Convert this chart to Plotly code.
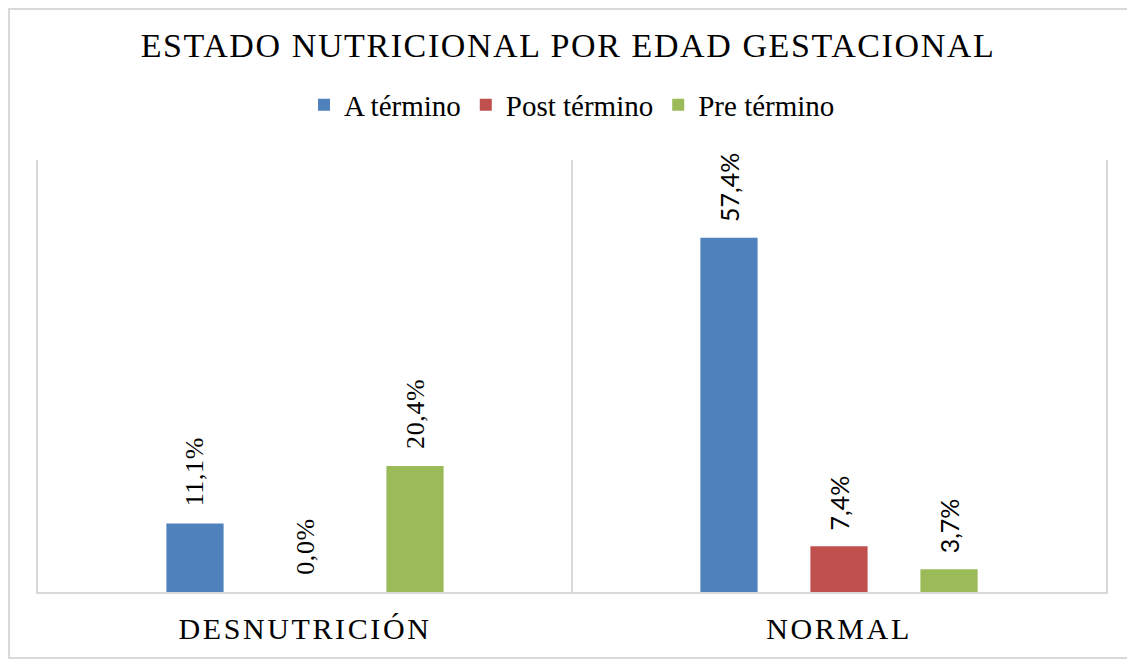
import plotly.graph_objects as go

categories = ["DESNUTRICIÓN", "NORMAL"]
series_names = ["A término", "Post término", "Pre término"]
a_termino = [0.111, 0.574]
post_termino = [0.0, 0.074]
pre_termino = [0.204, 0.037]
a_termino_labels = ["11,1%", "57,4%"]
post_termino_labels = ["0,0%", "7,4%"]
pre_termino_labels = ["20,4%", "3,7%"]
colors = ["#4F81BD", "#C0504D", "#9BBB59"]
title_text = "ESTADO NUTRICIONAL POR EDAD GESTACIONAL"

serif = "Liberation Serif"
# per-category label template (first category serif, second sans)
label_templates = [
    "<span style='letter-spacing:0.6px'>\u00a0\u00a0%{text}</span>",
    "<span style='font-family:Lato;font-size:25px'>\u00a0\u00a0%{text}</span>",
]

# page offset of the figure inside the browser body (default body margin)
OFF = 8
W, H = 1135, 661
plot_l, plot_r, plot_t, plot_b = 38 - OFF, 1106 - OFF, 160 - OFF, 592 - OFF
pw, ph = plot_r - plot_l, plot_b - plot_t

fig = go.Figure()
for name, vals, labels, col in zip(series_names,
                                   [a_termino, post_termino, pre_termino],
                                   [a_termino_labels, post_termino_labels, pre_termino_labels],
                                   colors):
    fig.add_trace(go.Bar(
        name=name, x=categories, y=vals, text=labels,
        texttemplate=label_templates,
        textposition="outside", textangle=-90,
        textfont=dict(family=serif, size=26, color="black"),
        constraintext="none", cliponaxis=False,
        marker=dict(color=col, line=dict(width=0)),
        hoverinfo="skip",
    ))

fig.update_layout(
    width=W, height=H,
    margin=dict(l=plot_l, r=W - plot_r, t=plot_t, b=H - plot_b),
    paper_bgcolor="white", plot_bgcolor="white",
    barmode="group", bargap=0.382, bargroupgap=0.48,
    title=dict(text=f"<span style='letter-spacing:1.6px'>{title_text}</span>",
               font=dict(family=serif, size=34, color="black"),
               x=(568 - OFF) / W, xanchor="center", xref="container",
               y=1 - (45 - OFF) / H, yanchor="middle", yref="container"),
    legend=dict(orientation="h", x=0.5, xanchor="center",
                y=1 - (105 - OFF) / H, yanchor="middle", yref="container",
                font=dict(family=serif, size=29, color="black"),
                itemclick=False, itemdoubleclick=False),
    showlegend=True,
    xaxis=dict(type="category", tickson="boundaries", showgrid=True,
               gridcolor="#d9d9d9", gridwidth=1.5,
               showline=True, linecolor="#d9d9d9", linewidth=1.5,
               ticks="", ticklabelstandoff=9,
               tickmode="array", tickvals=categories,
               ticktext=[f"<span style='letter-spacing:2.6px'>{c}</span>" for c in categories],
               tickfont=dict(family=serif, size=30, color="black"),
               range=[-0.5, 1.5], fixedrange=True),
    yaxis=dict(range=[0, 0.7], showgrid=False, zeroline=False,
               showticklabels=False, ticks="",
               showline=True, mirror=True, linecolor="#d9d9d9", linewidth=1.5,
               fixedrange=True),
    shapes=[dict(type="rect", xref="paper", yref="paper",
                 x0=(1 - plot_l) / pw, x1=(1140 - plot_l) / pw,
                 y0=(plot_b - (658 - OFF)) / ph, y1=(plot_b - 1) / ph,
                 line=dict(color="#d9d9d9", width=2), fillcolor="rgba(0,0,0,0)",
                 layer="below")],
)

fig.write_html("out.html")
